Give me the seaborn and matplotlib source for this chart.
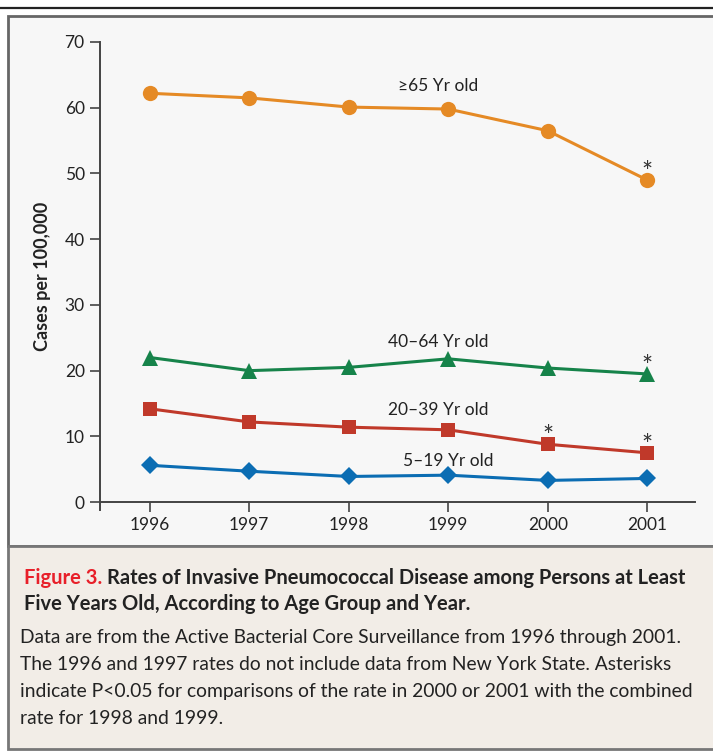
import matplotlib
matplotlib.use("Agg")
import matplotlib.pyplot as plt
import seaborn as sns
import pandas as pd
from matplotlib.patches import Rectangle
from matplotlib.lines import Line2D

years = [1996, 1997, 1998, 1999, 2000, 2001]
age_groups = ["≥65 Yr old", "40–64 Yr old", "20–39 Yr old", "5–19 Yr old"]
rate_65plus = [62.2, 61.5, 60.1, 59.8, 56.5, 49.0]
rate_40_64 = [22.0, 20.0, 20.5, 21.8, 20.4, 19.5]
rate_20_39 = [14.2, 12.2, 11.4, 11.0, 8.8, 7.5]
rate_5_19 = [5.6, 4.7, 3.9, 4.1, 3.3, 3.6]
# (group, year) pairs marked with an asterisk
asterisks = [("≥65 Yr old", 2001), ("40–64 Yr old", 2001),
             ("20–39 Yr old", 2000), ("20–39 Yr old", 2001)]
y_ticks = [0, 10, 20, 30, 40, 50, 60, 70]

rows = []
for grp, vals in zip(age_groups, [rate_65plus, rate_40_64, rate_20_39, rate_5_19]):
    for yr, v in zip(years, vals):
        rows.append({"Year": yr, "Rate": v, "Group": grp})
df = pd.DataFrame(rows)

palette = {"≥65 Yr old": "#e58a25", "40–64 Yr old": "#16834a",
           "20–39 Yr old": "#c0392a", "5–19 Yr old": "#0b6db3"}
markers = {"≥65 Yr old": "o", "40–64 Yr old": "^",
           "20–39 Yr old": "s", "5–19 Yr old": "D"}
msize = {"≥65 Yr old": 11, "40–64 Yr old": 11,
         "20–39 Yr old": 10, "5–19 Yr old": 9}
label_pos = {"≥65 Yr old": (1998.9, 63.3), "40–64 Yr old": (1998.9, 24.3),
             "20–39 Yr old": (1998.9, 14.0), "5–19 Yr old": (1999.0, 6.2)}

sns.set_style("white")
plt.rcParams["font.family"] = ["Lato", "DejaVu Sans"]

fig = plt.figure(figsize=(7.13, 7.51), dpi=100)
W, H = 713, 751

def px(x0, y0, x1, y1):
    return [x0 / W, 1 - y1 / H, (x1 - x0) / W, (y1 - y0) / H]

# panels (behind the axes)
fig.add_artist(Line2D([0, 1], [1 - 7.5 / H, 1 - 7.5 / H], color="#222222", lw=1.6,
                      transform=fig.transFigure, zorder=-5))
r = px(8, 16, 720, 546)
fig.add_artist(Rectangle((r[0], r[1]), r[2], r[3], transform=fig.transFigure,
                         facecolor="#f7f7f7", edgecolor="#666666", lw=2, zorder=-5))
r = px(8, 546, 720, 749)
fig.add_artist(Rectangle((r[0], r[1]), r[2], r[3], transform=fig.transFigure,
                         facecolor="#f2ede7", edgecolor="#777777", lw=2, zorder=-5))

ax = fig.add_axes(px(100, 42, 695, 510))
ax.set_facecolor("none")
for grp in age_groups:
    sub = df[df["Group"] == grp]
    sns.lineplot(data=sub, x="Year", y="Rate", ax=ax, color=palette[grp],
                 marker=markers[grp], markersize=msize[grp], markeredgewidth=0,
                 lw=2.2, legend=False)
    lx, ly = label_pos[grp]
    ax.text(lx, ly, grp, ha="center", va="center", fontsize=12.5, color="#222222")

for grp, yr in asterisks:
    v = df[(df["Group"] == grp) & (df["Year"] == yr)]["Rate"].iloc[0]
    ax.text(yr, v - 0.9, "*", ha="center", va="bottom", fontsize=19, color="#333333")

ax.set_xlim(1995.5, 2001.48)
ax.set_ylim(-1.2, 70)
ax.set_yticks(y_ticks)
ax.set_xticks(years)
ax.set_xticklabels([str(y) for y in years])
ax.spines["top"].set_visible(False)
ax.spines["right"].set_visible(False)
ax.spines["bottom"].set_position(("data", 0))
for s in ["left", "bottom"]:
    ax.spines[s].set_color("#444444")
    ax.spines[s].set_linewidth(1.4)
ax.tick_params(axis="both", direction="out", length=7, width=1.2, color="#444444",
               labelsize=12.5, labelcolor="#222222", pad=4, left=True, bottom=True)
ax.set_xlabel("")
ax.set_ylabel("Cases per 100,000", fontsize=13, fontweight="bold", color="#222222",
              labelpad=10)

# caption
fig.canvas.draw()
renderer = fig.canvas.get_renderer()
t1 = fig.text(24 / W, 1 - 578 / H, "Figure 3. ", color="#e8202a", fontsize=14.5,
              fontweight="bold", va="center", ha="left")
x_end = t1.get_window_extent(renderer).x1 / W
fig.text(x_end, 1 - 578 / H, "Rates of Invasive Pneumococcal Disease among Persons at Least",
         color="#222222", fontsize=14.5, fontweight="bold", va="center", ha="left")
fig.text(24 / W, 1 - 604 / H, "Five Years Old, According to Age Group and Year.",
         color="#222222", fontsize=14.5, fontweight="bold", va="center", ha="left")
body = ["Data are from the Active Bacterial Core Surveillance from 1996 through 2001.",
        "The 1996 and 1997 rates do not include data from New York State. Asterisks",
        "indicate P<0.05 for comparisons of the rate in 2000 or 2001 with the combined",
        "rate for 1998 and 1999."]
for i, line in enumerate(body):
    fig.text(20 / W, 1 - (637 + i * 27) / H, line, color="#222222", fontsize=13.9,
             va="center", ha="left")

fig.savefig("out.png", dpi=100)
